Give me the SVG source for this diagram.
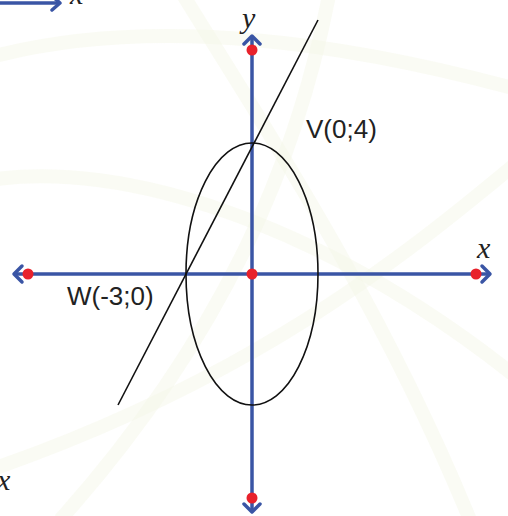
<svg xmlns="http://www.w3.org/2000/svg" width="508" height="516" viewBox="0 0 508 516">
<style>
.bg{fill:none;stroke:#f3f6e6;stroke-width:14;opacity:0.45}
.axis{stroke:#3a55a5;stroke-width:3.5;fill:none}
.head{stroke:#3a55a5;stroke-width:3.5;fill:none;stroke-linecap:round;stroke-linejoin:round}
.dot{fill:#e8212b}
.curve{fill:none;stroke:#111;stroke-width:1.6}
.lbl{font-family:"Liberation Sans","Open Sans",sans-serif;font-size:26px;fill:#222}
.var{font-family:"Liberation Serif","DejaVu Serif",serif;font-style:italic;font-size:30px;fill:#222}
</style>
<g id="background">
<path class="bg" d="M-20,60 C120,20 300,30 520,90"/>
<path class="bg" d="M180,-10 C260,120 380,300 470,520"/>
<path class="bg" d="M520,160 C400,260 250,380 -10,470"/>
<path class="bg" d="M-10,180 C120,160 320,220 520,380"/>
<path class="bg" d="M330,-10 C300,150 230,330 60,520"/>
</g>
<g id="connectors">
<line class="axis" x1="14" y1="274" x2="490" y2="274"/>
<line class="axis" x1="252" y1="36" x2="252" y2="512"/>
<polyline class="head" points="22,266 14,274 22,282"/>
<polyline class="head" points="482,266 490,274 482,282"/>
<polyline class="head" points="244,44 252,36 260,44"/>
<polyline class="head" points="244,504 252,512 260,504"/>
<line class="axis" x1="0" y1="3" x2="58" y2="3"/>
<polyline class="head" points="52,-4 60,3 52,10"/>
<line class="curve" x1="118" y1="405" x2="318" y2="20"/>
</g>
<g id="ellipse"><ellipse class="curve" cx="252" cy="274" rx="66" ry="131"/></g>
<g id="origin"><circle class="dot" cx="252" cy="274" r="5.5"/></g>
<g id="x-left"><circle class="dot" cx="28" cy="274" r="5.5"/></g>
<g id="x-right"><circle class="dot" cx="476" cy="274" r="5.5"/></g>
<g id="y-top"><circle class="dot" cx="252" cy="50" r="5.5"/></g>
<g id="y-bottom"><circle class="dot" cx="252" cy="498" r="5.5"/></g>
<g id="labels">
<text class="lbl" x="306" y="138">V(0;4)</text>
<text class="lbl" x="67" y="305">W(-3;0)</text>
<text class="var" x="242" y="28">y</text>
<text class="var" x="477" y="258">x</text>
<text class="var" x="-3" y="490">x</text>
<text class="var" x="70" y="4">x</text>
</g>
</svg>
